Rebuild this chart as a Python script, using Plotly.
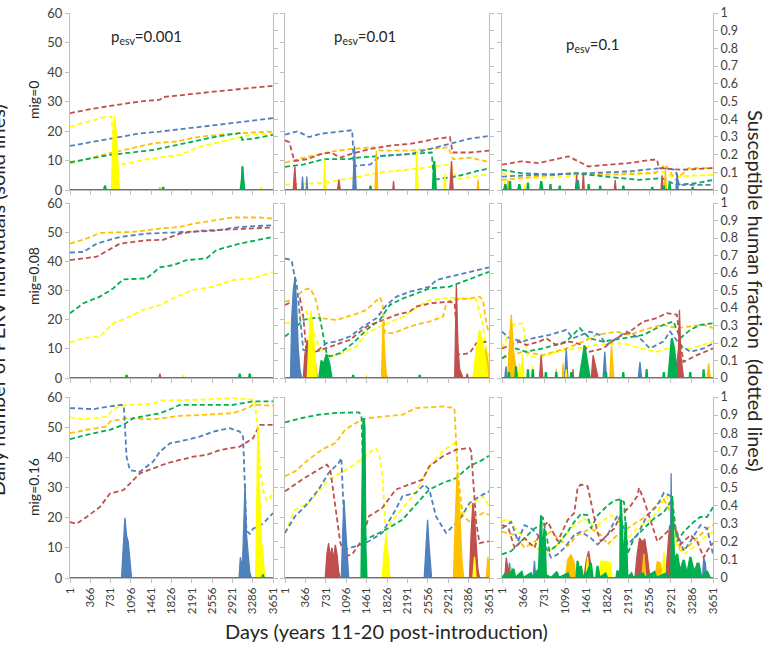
import plotly.graph_objects as go

# ---------------- categories / tick labels ----------------
DAY_TICKS = [1, 366, 731, 1096, 1461, 1826, 2191, 2556, 2921, 3286, 3651]
FRAC_TICKS = [0, 0.1, 0.2, 0.3, 0.4, 0.5, 0.6, 0.7, 0.8, 0.9, 1]
FRAC_TICK_TEXT = ["0", "0.1", "0.2", "0.3", "0.4", "0.5", "0.6", "0.7", "0.8", "0.9", "1"]
COUNT_TICKS = [0, 10, 20, 30, 40, 50, 60]
ROW_LABELS = ["mig=0", "mig=0.08", "mig=0.16"]
COL_LABELS = ["p<sub>esv</sub>=0.001", "p<sub>esv</sub>=0.01", "p<sub>esv</sub>=0.1"]
SERIES = ["red", "blue", "green", "yellow", "orange"]

# ---------------- susceptible human fraction (dashed), (day, fraction) ----------------
# row 1: mig=0
frac_r1c1_red = [(1,0.434),(365,0.457),(719,0.475),(1258,0.50),(1617,0.51),(1677,0.525),(2634,0.557),(3651,0.589)]
frac_r1c1_blue = [(1,0.249),(719,0.292),(1258,0.32),(1617,0.33),(2095,0.349),(2634,0.368),(3053,0.383),(3651,0.406)]
frac_r1c1_yellow = [(1,0.358),(659,0.415),(749,0.415),(809,0.151),(958,0.145),(1317,0.17),(1736,0.189),(1976,0.198),(2335,0.245),(2873,0.283),(3232,0.311),(3651,0.32)]
frac_r1c1_orange = [(1,0.151),(719,0.208),(1497,0.264),(1916,0.274),(2335,0.302),(3053,0.321),(3651,0.33)]
frac_r1c1_green = [(1,0.157),(719,0.198),(1497,0.226),(2095,0.264),(2634,0.302),(3053,0.321),(3101,0.283),(3292,0.29),(3651,0.311)]

frac_r1c2_blue = [(1,0.313),(226,0.332),(433,0.299),(641,0.318),(1204,0.338),(1233,0.135),(1530,0.145),(1707,0.193),(2241,0.203),(2596,0.232),(2952,0.261),(3307,0.29),(3651,0.305)]
frac_r1c2_red = [(1,0.28),(78,0.27),(167,0.164),(404,0.174),(641,0.203),(819,0.212),(996,0.183),(1174,0.203),(1530,0.232),(1885,0.251),(2241,0.261),(2715,0.29),(2952,0.299),(2999,0.212),(3307,0.212),(3651,0.222)]
frac_r1c2_orange = [(1,0.154),(345,0.183),(819,0.216),(1174,0.232),(1589,0.241),(1707,0.222),(2241,0.222),(2596,0.232),(2922,0.241),(3011,0.174),(3307,0.183),(3651,0.158)]
frac_r1c2_green = [(1,0.131),(345,0.145),(700,0.174),(1115,0.174),(1293,0.183),(1767,0.193),(2122,0.203),(2626,0.212),(2667,0.058),(3070,0.077),(3425,0.106),(3651,0.122)]
frac_r1c2_yellow = [(1,0.03),(700,0.04),(1233,0.07),(1707,0.10),(2359,0.12),(2833,0.14),(2981,0.14),(3070,0.06),(3651,0.09)]

frac_r1c3_red = [(1,0.143),(337,0.162),(627,0.152),(917,0.171),(1148,0.19),(1322,0.162),(1496,0.133),(1843,0.143),(2191,0.152),(2597,0.171),(2684,0.171),(2713,0.124),(3118,0.114),(3651,0.124)]
frac_r1c3_blue = [(1,0.076),(627,0.086),(1496,0.095),(2191,0.105),(2771,0.124),(3003,0.114),(3061,0.029),(3651,0.029)]
frac_r1c3_green = [(1,0.114),(337,0.095),(917,0.086),(1264,0.095),(1785,0.076),(2365,0.057),(2771,0.067),(3003,0.029),(3350,0.038),(3651,0.057)]
frac_r1c3_yellow = [(1,0.095),(337,0.067),(917,0.072),(1496,0.086),(2365,0.095),(2771,0.105),(2944,0.076),(3651,0.086)]
frac_r1c3_orange = [(1,0.057),(627,0.076),(1206,0.095),(1785,0.086),(2655,0.095),(2829,0.143),(3003,0.057),(3234,0.124),(3651,0.124)]

# row 2: mig=0.08
frac_r2c1_orange = [(1,0.768),(300,0.797),(540,0.829),(1138,0.835),(1617,0.854),(1976,0.863),(2215,0.882),(2574,0.901),(2933,0.917),(3412,0.917),(3651,0.911)]
frac_r2c1_blue = [(1,0.717),(240,0.72),(480,0.768),(899,0.806),(1377,0.825),(1856,0.829),(2095,0.835),(2574,0.841),(3053,0.863),(3651,0.873)]
frac_r2c1_red = [(1,0.674),(480,0.693),(899,0.768),(1377,0.787),(1677,0.79),(1976,0.825),(2335,0.841),(2813,0.848),(3651,0.86)]
frac_r2c1_green = [(1,0.37),(240,0.427),(540,0.465),(779,0.512),(958,0.564),(1377,0.569),(1617,0.632),(1856,0.645),(2095,0.674),(2454,0.683),(2634,0.731),(3053,0.768),(3651,0.806)]
frac_r2c1_yellow = [(1,0.203),(240,0.228),(540,0.237),(779,0.313),(1018,0.342),(1317,0.389),(1617,0.417),(1916,0.465),(2215,0.503),(2574,0.522),(2933,0.56),(3292,0.569),(3651,0.607)]

frac_r2c2_blue = [(1,0.683),(120,0.673),(162,0.598),(209,0.541),(328,0.161),(567,0.152),(745,0.2),(924,0.209),(1162,0.237),(1400,0.294),(1638,0.342),(1817,0.417),(1995,0.465),(2233,0.493),(2591,0.522),(2710,0.56),(3067,0.588),(3424,0.617),(3651,0.632)]
frac_r2c2_orange = [(1,0.436),(150,0.446),(328,0.503),(447,0.512),(537,0.465),(626,0.342),(924,0.332),(1221,0.361),(1459,0.389),(1638,0.446),(1698,0.461),(1745,0.427),(1787,0.256),(1936,0.256),(2233,0.294),(2591,0.323),(2829,0.351),(2889,0.427),(2978,0.446),(3305,0.455),(3484,0.465),(3543,0.446),(3603,0.313),(3651,0.256)]
frac_r2c2_red = [(1,0.417),(269,0.455),(328,0.35),(388,0.142),(567,0.152),(745,0.171),(924,0.19),(1162,0.218),(1459,0.294),(1698,0.323),(1995,0.361),(2233,0.38),(2352,0.408),(2591,0.427),(2948,0.436),(3037,0.427),(3097,0.133),(3305,0.142),(3424,0.199),(3651,0.209)]
frac_r2c2_green = [(1,0.237),(150,0.275),(328,0.332),(567,0.345),(626,0.342),(745,0.142),(805,0.123),(983,0.142),(1221,0.2),(1459,0.275),(1698,0.332),(1876,0.417),(2114,0.455),(2352,0.484),(2591,0.512),(2948,0.522),(3186,0.55),(3424,0.579),(3651,0.607)]
frac_r2c2_yellow = [(1,0.313),(150,0.32),(328,0.37),(388,0.38),(626,0.161),(805,0.123),(1043,0.142),(1281,0.18),(1459,0.256),(1638,0.285),(2114,0.35),(2531,0.44),(2948,0.46),(3424,0.45),(3543,0.3),(3603,0.15),(3651,0.12)]

frac_r2c3_red = [(1,0.169),(302,0.208),(418,0.188),(649,0.208),(765,0.227),(939,0.188),(1170,0.208),(1402,0.188),(1518,0.15),(1750,0.169),(1982,0.227),(2213,0.265),(2445,0.323),(2677,0.342),(2851,0.371),(3025,0.362),(3112,0.15),(3141,0.092),(3373,0.131),(3651,0.169)]
frac_r2c3_blue = [(1,0.265),(128,0.227),(360,0.208),(534,0.227),(823,0.246),(1113,0.275),(1229,0.227),(1518,0.265),(1693,0.246),(1808,0.188),(1982,0.227),(2155,0.265),(2387,0.227),(2561,0.169),(2793,0.208),(2909,0.265),(3083,0.188),(3257,0.15),(3489,0.169),(3651,0.198)]
frac_r2c3_green = [(1,0.112),(244,0.169),(418,0.15),(707,0.169),(1113,0.208),(1345,0.285),(1518,0.227),(1750,0.208),(2098,0.227),(2445,0.246),(2793,0.304),(2967,0.323),(3083,0.227),(3257,0.275),(3431,0.304),(3651,0.313)]
frac_r2c3_yellow = [(1,0.169),(186,0.304),(360,0.313),(447,0.131),(649,0.112),(939,0.15),(1287,0.169),(1634,0.188),(2098,0.198),(2387,0.169),(2677,0.15),(2967,0.179),(3257,0.169),(3651,0.208)]
frac_r2c3_orange = [(1,0.112),(360,0.15),(707,0.131),(1113,0.169),(1402,0.208),(1634,0.246),(1982,0.265),(2213,0.246),(2445,0.275),(2793,0.304),(3025,0.285),(3257,0.294),(3489,0.304),(3651,0.285)]

# row 3: mig=0.16
frac_r3c1_blue = [(1,0.939),(420,0.933),(719,0.948),(928,0.957),(970,0.948),(1018,0.67),(1078,0.596),(1258,0.587),(1377,0.615),(1497,0.643),(1617,0.698),(1796,0.744),(2095,0.763),(2335,0.781),(2574,0.809),(2873,0.828),(3053,0.809),(3113,0.78),(3173,0.263),(3232,0.244),(3292,0.272),(3472,0.3),(3651,0.359)]
frac_r3c1_yellow = [(1,0.887),(240,0.878),(659,0.89),(809,0.939),(1018,0.957),(1497,0.961),(1617,0.981),(2335,0.985),(2933,0.994),(3322,0.985),(3382,0.8),(3424,0.6),(3472,0.485),(3531,0.43),(3591,0.43),(3651,0.485)]
frac_r3c1_orange = [(1,0.8),(300,0.819),(659,0.837),(719,0.865),(1018,0.883),(1497,0.876),(1976,0.896),(2335,0.9),(2933,0.911),(3202,0.939),(3292,0.957),(3651,0.952)]
frac_r3c1_green = [(1,0.767),(300,0.791),(719,0.819),(958,0.846),(1138,0.883),(1377,0.896),(1617,0.91),(1856,0.939),(1976,0.957),(2933,0.957),(3292,0.976),(3651,0.976)]
frac_r3c1_red = [(1,0.309),(120,0.3),(300,0.337),(540,0.393),(719,0.467),(958,0.485),(1078,0.522),(1258,0.578),(1497,0.606),(1736,0.633),(1976,0.652),(2215,0.67),(2454,0.68),(2694,0.707),(3053,0.726),(3292,0.772),(3412,0.846),(3651,0.846)]

frac_r3c2_green = [(1,0.86),(301,0.884),(601,0.902),(901,0.912),(1321,0.915),(1369,0.9),(1405,0.5),(1441,0.212),(1801,0.267),(2101,0.322),(2341,0.405),(2582,0.488),(2822,0.525),(3062,0.552),(3302,0.617),(3542,0.654),(3651,0.676)]
frac_r3c2_orange = [(1,0.562),(181,0.589),(421,0.654),(661,0.709),(901,0.746),(1081,0.82),(1321,0.866),(1501,0.884),(2101,0.902),(2341,0.939),(2822,0.948),(3032,0.939),(3092,0.58),(3182,0.341),(3302,0.313),(3542,0.359),(3651,0.35)]
frac_r3c2_red = [(1,0.479),(301,0.543),(601,0.599),(751,0.626),(811,0.6),(901,0.4),(991,0.193),(1081,0.12),(1201,0.13),(1381,0.212),(1501,0.341),(1741,0.387),(1981,0.488),(2221,0.516),(2462,0.543),(2582,0.617),(2822,0.672),(3062,0.709),(3302,0.718),(3332,0.7),(3422,0.304),(3482,0.193),(3651,0.203)]
frac_r3c2_blue = [(1,0.249),(181,0.341),(361,0.396),(601,0.488),(781,0.58),(961,0.635),(1009,0.663),(1051,0.4),(1081,0.157),(1261,0.175),(1501,0.203),(1741,0.249),(1981,0.378),(2101,0.451),(2341,0.47),(2492,0.516),(2582,0.49),(2702,0.341),(2882,0.249),(3122,0.322),(3302,0.414),(3482,0.451),(3651,0.479)]
frac_r3c2_yellow = [(1,0.249),(181,0.378),(421,0.414),(781,0.543),(1201,0.617),(1441,0.672),(1621,0.718),(1681,0.69),(1741,0.58),(1801,0.267),(1981,0.341),(2341,0.47),(2582,0.617),(2822,0.7),(3032,0.746),(3062,0.72),(3152,0.341),(3362,0.414),(3542,0.451),(3651,0.4)]

frac_r3c3_red = [(1,0.292),(104,0.283),(219,0.167),(391,0.22),(563,0.167),(678,0.274),(793,0.31),(965,0.203),(1137,0.32),(1252,0.36),(1310,0.5),(1367,0.516),(1482,0.507),(1539,0.42),(1596,0.33),(1654,0.25),(1711,0.203),(1826,0.238),(1941,0.274),(2056,0.346),(2228,0.4),(2343,0.453),(2371,0.498),(2457,0.43),(2572,0.31),(2687,0.203),(2802,0.238),(2916,0.274),(2974,0.292),(3089,0.185),(3261,0.238),(3376,0.203),(3491,0.113),(3548,0.149),(3651,0.194)]
frac_r3c3_blue = [(1,0.274),(161,0.31),(276,0.203),(391,0.292),(506,0.274),(678,0.22),(850,0.113),(965,0.131),(1080,0.167),(1252,0.238),(1367,0.256),(1539,0.22),(1654,0.185),(1826,0.238),(1941,0.31),(1998,0.346),(2113,0.274),(2170,0.185),(2343,0.238),(2514,0.346),(2687,0.4),(2802,0.471),(2916,0.453),(2974,0.3),(3146,0.149),(3261,0.203),(3433,0.292),(3548,0.274),(3651,0.131)]
frac_r3c3_green = [(1,0.131),(161,0.149),(391,0.22),(563,0.274),(678,0.292),(706,0.337),(821,0.149),(965,0.185),(1137,0.256),(1252,0.31),(1367,0.355),(1482,0.346),(1539,0.274),(1654,0.346),(1826,0.4),(1941,0.427),(2056,0.435),(2113,0.418),(2170,0.131),(2285,0.22),(2457,0.274),(2629,0.328),(2802,0.364),(2945,0.435),(3031,0.203),(3146,0.256),(3318,0.31),(3433,0.337),(3548,0.337),(3651,0.391)]
frac_r3c3_yellow = [(1,0.31),(104,0.328),(276,0.256),(448,0.203),(735,0.131),(965,0.185),(1194,0.274),(1424,0.328),(1539,0.31),(1596,0.256),(1711,0.31),(1883,0.346),(1998,0.328),(2170,0.22),(2343,0.274),(2514,0.31),(2687,0.364),(2802,0.435),(2860,0.453),(2945,0.31),(3031,0.167),(3146,0.131),(3376,0.185),(3548,0.238),(3651,0.256)]
frac_r3c3_orange = [(1,0.256),(219,0.238),(391,0.167),(678,0.22),(850,0.256),(965,0.22),(1137,0.176),(1310,0.238),(1539,0.274),(1711,0.238),(1826,0.185),(1998,0.238),(2170,0.274),(2343,0.31),(2514,0.346),(2687,0.409),(2802,0.435),(2945,0.346),(3089,0.149),(3261,0.185),(3433,0.238),(3548,0.274),(3651,0.292)]

# ---------------- daily number of PERV individuals (solid), (day, count) ----------------
ZERO = [(1,0),(3651,0)]
count_r1c1_red = ZERO
count_r1c1_blue = ZERO
count_r1c1_orange = [(1,0),(1600,0),(1617,1),(1635,0),(3651,0)]
count_r1c1_yellow = [(1,0),(745,0),(775,18),(805,25),(830,20),(860,8),(890,0),(3425,0),(3441,1),(3460,0),(3651,0)]
count_r1c1_green = [(1,0),(615,0),(629,1.5),(645,0),(1665,0),(1677,1),(1690,0),(3070,0),(3095,4),(3101,8),(3110,5),(3135,0),(3651,0)]

count_r1c2_red = [(1,0),(150,0),(165,5),(178,8),(190,4),(205,0),(940,0),(966,3.5),(990,0),(1930,0),(1943,3),(1956,0),(2950,0),(2970,6),(2980,9.8),(2990,6),(3010,0),(3651,0)]
count_r1c2_blue = [(1,0),(300,0),(314,4.6),(330,0),(380,0),(391,4.6),(405,0),(1215,0),(1235,10),(1244,15),(1255,9),(1275,0),(3651,0)]
count_r1c2_yellow = [(1,0),(690,0),(705,7),(711,10.4),(720,6),(735,0),(2335,0),(2350,9),(2358,13.3),(2368,8),(2385,0),(2845,0),(2862,5.8),(2880,0),(3651,0)]
count_r1c2_orange = [(1,0),(1610,0),(1628,9),(1635,13.3),(1645,8),(1660,0),(3440,0),(3454,3.5),(3470,0),(3651,0)]
count_r1c2_green = [(1,0),(1520,0),(1530,1.5),(1540,0),(2645,0),(2662,6),(2672,9.8),(2685,5),(2700,0),(3651,0)]

count_r1c3_red = [(1,0),(1270,0),(1293,5.1),(1310,0),(1390,0),(1409,5.7),(1425,0),(1945,0),(1959,3.4),(1975,0),(2750,0),(2771,5),(2790,0),(3651,0)]
count_r1c3_blue = [(1,0),(1305,0),(1322,3.4),(1340,0),(3010,0),(3032,5.7),(3050,0),(3651,0)]
count_r1c3_orange = [(1,0),(90,0),(105,3.4),(120,0),(2810,0),(2829,6.9),(2845,0),(3651,0)]
count_r1c3_yellow = [(1,0),(30,0),(47,3),(65,0),(380,0),(395,2),(410,0),(3651,0)]
count_r1c3_green = [(1,0),(40,0),(60,2),(80,0),(130,0),(140,3),(150,0),(280,0),(300,2),(320,0),(440,0),(450,2.5),(460,0),(660,0),(680,3),(700,0),(830,0),(840,2),(850,0),(990,0),(1000,1.5),(1010,0),(1290,0),(1300,3),(1310,0),(1490,0),(1500,2),(1510,0),(1690,0),(1700,1.5),(1710,0),(2090,0),(2100,1.5),(2110,0),(2590,0),(2600,1),(2610,0),(2790,0),(2800,1.5),(2810,0),(2890,0),(2900,2.5),(2910,0),(3290,0),(3300,1),(3310,0),(3651,0)]

count_r2c1_red = [(1,0),(1600,0),(1617,1.5),(1635,0),(3651,0)]
count_r2c1_blue = ZERO
count_r2c1_orange = ZERO
count_r2c1_yellow = [(1,0),(1000,0),(1018,1.2),(1035,0),(2020,0),(2035,1),(2050,0),(3651,0)]
count_r2c1_green = [(1,0),(1005,0),(1018,1),(1030,0),(3040,0),(3053,1.5),(3065,0),(3220,0),(3232,1.5),(3245,0),(3651,0)]

count_r2c2_blue = [(1,0),(100,0),(120,20),(149,30),(179,34.7),(209,25),(238,10),(268,3),(298,0),(1805,0),(1817,1),(1830,0),(3651,0)]
count_r2c2_red = [(1,0),(328,0),(357,8),(399,13),(435,9),(476,12),(506,5),(536,0),(3037,0),(3067,31.9),(3097,10),(3126,3),(3186,0),(3240,0),(3260,1.5),(3280,0),(3651,0)]
count_r2c2_yellow = [(1,0),(399,0),(435,15),(464,23),(494,18),(536,8),(566,0),(1450,0),(1459,1),(1470,0),(3364,0),(3424,10),(3483,16.5),(3543,12),(3603,5),(3632,0),(3651,0)]
count_r2c2_orange = [(1,0),(476,0),(518,9.7),(554,5),(584,0),(1727,0),(1757,20),(1787,8),(1817,0),(3543,0),(3590,10),(3632,6),(3651,0)]
count_r2c2_green = [(1,0),(614,0),(655,6),(685,4),(745,8),(792,5),(834,0),(1210,0),(1221,1),(1232,0),(2400,0),(2411,1),(2422,0),(3651,0)]

count_r2c3_orange = [(1,0),(99,0),(139,15),(162,21.7),(197,10),(244,3),(302,0),(930,0),(939,3),(950,0),(1045,0),(1055,5),(1068,0),(1866,0),(1895,11),(1935,0),(3547,0),(3576,5),(3605,0),(3651,0)]
count_r2c3_red = [(1,0),(649,0),(678,7.8),(707,0),(1220,0),(1229,3),(1240,0),(1547,0),(1576,7.8),(1622,3),(1663,0),(2996,0),(3054,10),(3071,23.4),(3094,8),(3141,0),(3651,0)]
count_r2c3_blue = [(1,0),(50,0),(70,4),(90,0),(1083,0),(1113,10),(1141,0),(1750,0),(1779,9),(1808,0),(2358,0),(2387,5.5),(2416,0),(2967,0),(2996,8),(3025,0),(3651,0)]
count_r2c3_yellow = [(1,0),(290,0),(302,5),(330,2),(360,8),(380,0),(520,0),(534,4),(550,0),(1100,0),(1113,3),(1125,0),(3651,0)]
count_r2c3_green = [(1,0),(110,0),(120,2),(130,0),(234,0),(244,4),(254,0),(440,0),(450,3),(460,0),(524,0),(534,3),(544,0),(750,0),(760,2),(770,0),(929,0),(939,2),(949,0),(1190,0),(1200,2),(1210,0),(1345,0),(1402,8),(1431,11),(1460,7),(1518,0),(1790,0),(1800,2),(1810,0),(2088,0),(2098,2),(2108,0),(2493,0),(2503,3),(2513,0),(2790,0),(2800,2),(2810,0),(2880,0),(2938,13.6),(2979,10),(3025,0),(3247,0),(3257,2),(3267,0),(3479,0),(3489,3),(3499,0),(3651,0)]

count_r3c1_red = ZERO
count_r3c1_orange = ZERO
count_r3c1_blue = [(1,0),(928,0),(958,10),(988,20),(1018,14),(1048,12),(1078,6),(1107,0),(3040,0),(3064,6.9),(3100,3),(3130,20),(3148,31),(3172,15),(3202,8),(3232,2),(3262,0),(3651,0)]
count_r3c1_yellow = [(1,0),(3339,0),(3363,30),(3381,50.2),(3399,35),(3424,20),(3441,12),(3471,8),(3501,0),(3651,0)]
count_r3c1_green = [(1,0),(3459,0),(3471,1.2),(3483,0),(3651,0)]

count_r3c2_red = [(1,0),(721,0),(751,8),(781,11.6),(811,7),(841,10),(871,6),(901,11),(931,8),(961,2),(991,0),(3302,0),(3332,15),(3362,24.9),(3392,20),(3422,10),(3452,3),(3482,0),(3651,0)]
count_r3c2_blue = [(1,0),(1009,0),(1033,15),(1057,25.9),(1081,18),(1111,8),(1141,0),(2492,0),(2522,12),(2552,19.3),(2582,10),(2624,0),(3651,0)]
count_r3c2_green = [(1,0),(1369,0),(1387,30),(1405,53),(1423,50),(1441,10),(1459,0),(3651,0)]
count_r3c2_yellow = [(1,0),(1741,0),(1771,8),(1813,14.9),(1849,6),(1879,0),(3362,0),(3392,7),(3422,0),(3651,0)]
count_r3c2_orange = [(1,0),(3014,0),(3050,20),(3080,34.8),(3110,28),(3140,15),(3170,5),(3200,0),(3602,0),(3632,7),(3651,3)]

count_r3c3_red = [(1,0),(50,0),(75,6.8),(100,3),(125,0),(1420,0),(1460,6),(1500,8.9),(1530,5),(1570,0),(2300,0),(2340,8),(2380,13.2),(2430,12),(2470,13),(2510,8),(2560,0),(2830,0),(2870,10),(2900,17.5),(2930,8),(2960,0),(3350,0),(3375,5),(3400,0),(3651,0)]
count_r3c3_blue = [(1,0),(100,0),(130,5),(160,0),(540,0),(562,5.7),(585,0),(2900,0),(2920,20),(2927,34.7),(2935,15),(2950,0),(3470,0),(3490,6.7),(3518,5),(3540,0),(3651,0)]
count_r3c3_orange = [(1,0),(140,0),(161,3.5),(180,0),(1100,0),(1136,6),(1194,7.8),(1251,5),(1280,0),(2420,0),(2456,8),(2490,0),(2650,0),(2686,5.4),(2740,5),(2780,0),(3380,0),(3400,5),(3420,0),(3651,0)]
count_r3c3_yellow = [(1,0),(1450,0),(1481,7),(1510,0),(1680,0),(1710,5.5),(1796,5.5),(1882,5),(1900,0),(2110,0),(2141,7.8),(2170,0),(2770,0),(2801,8.8),(2830,0),(3200,0),(3260,4),(3300,0),(3651,0)]
count_r3c3_green = [(1,0),(60,1.5),(90,0),(200,3),(230,0),(340,2),(370,0),(500,1.5),(530,0),(640,3),(677,20.8),(700,4),(735,16.5),(760,1),(850,0),(950,2),(980,0),(1140,1.5),(1170,0),(1290,0),(1308,5.7),(1340,1),(1366,4),(1400,0),(1480,2),(1538,5),(1570,0),(1630,0),(1653,4),(1690,0),(1790,1.5),(1820,0),(1980,0),(2000,2.5),(2030,0),(2045,0),(2055,26),(2083,12),(2110,2),(2141,18.6),(2170,0),(2240,1.5),(2270,0),(2440,1.5),(2470,0),(2640,2),(2670,0),(2840,1.5),(2870,0),(2930,0),(2944,27.2),(2980,5),(3030,8),(3080,2),(3145,6),(3200,1),(3260,7),(3320,2),(3400,5),(3450,0),(3550,2),(3600,0),(3651,0)]

# ---------------- styling ----------------
COLORS = {"red": "#C0504D", "blue": "#4F81BD", "green": "#00B050",
          "yellow": "#FFFF00", "orange": "#FFC000"}
FONT = "Lato, 'Open Sans', sans-serif"
AXIS_GRAY = "#BFBFBF"
TICK_COLOR = "#404040"
W, H = 771, 646
COL_PX = [(70, 273), (285, 489), (502, 713)]
ROW_PX = [(13, 190), (203, 378), (397, 578)]

g = globals()
fig = go.Figure()
layout = {}

DASHED_ORDER = ["yellow", "orange", "green", "blue", "red"]
SOLID_ORDER = ["blue", "red", "orange", "yellow", "green"]

for r in range(3):
    for c in range(3):
        k = r * 3 + c + 1
        xa = "x" if k == 1 else f"x{k}"
        yf = 2 * k - 1
        yc = 2 * k
        yf_name = "y" if yf == 1 else f"y{yf}"
        yc_name = f"y{yc}"
        for s in DASHED_ORDER:
            pts = g[f"frac_r{r+1}c{c+1}_{s}"]
            fig.add_trace(go.Scatter(
                x=[p[0] for p in pts], y=[p[1] for p in pts], mode="lines",
                line=dict(color=COLORS[s], width=1.8, dash="5px,3px"),
                xaxis=xa, yaxis=yf_name, showlegend=False, hoverinfo="skip"))
        for s in SOLID_ORDER:
            pts = g[f"count_r{r+1}c{c+1}_{s}"]
            fig.add_trace(go.Scatter(
                x=[p[0] for p in pts], y=[p[1] for p in pts], mode="lines",
                line=dict(color=COLORS[s], width=2.2 if s == "green" else 1.3),
                fill="tozeroy", fillcolor=COLORS[s],
                xaxis=xa, yaxis=yc_name, showlegend=False, hoverinfo="skip"))

        x0, x1 = COL_PX[c]
        y0, y1 = ROW_PX[r]
        xdom = [x0 / W, x1 / W]
        ydom = [1 - y1 / H, 1 - y0 / H]
        common = dict(ticks="outside", ticklen=4, tickcolor=AXIS_GRAY,
                      showline=True, linecolor=AXIS_GRAY, linewidth=1,
                      showgrid=False, zeroline=False, automargin=False)
        layout[f"xaxis{'' if k == 1 else k}"] = dict(
            domain=xdom, range=[1, 3651], anchor=yf_name,
            tickvals=DAY_TICKS, ticktext=[str(v) for v in DAY_TICKS],
            tickangle=-90, showticklabels=(r == 2),
            tickfont=dict(family=FONT, size=11.5, color=TICK_COLOR), **common)
        layout[f"yaxis{'' if yf == 1 else yf}"] = dict(
            domain=ydom, range=[0, 1], anchor=xa, side="right",
            tickvals=FRAC_TICKS, ticktext=FRAC_TICK_TEXT, showticklabels=(c == 2),
            tickfont=dict(family=FONT, size=12.5, color=TICK_COLOR), **common)
        layout[f"yaxis{yc}"] = dict(
            range=[0, 60], anchor=xa, overlaying=yf_name, side="left",
            tickvals=COUNT_TICKS, showticklabels=(c == 0),
            tickfont=dict(family=FONT, size=13, color=TICK_COLOR), **common)

def note(text, px, py, size, angle=0):
    return dict(text=text, x=px / W, y=1 - py / H, xref="paper", yref="paper",
                xanchor="center", yanchor="middle", showarrow=False, textangle=angle,
                font=dict(family=FONT, size=size, color="#262626"))

annotations = []
title_pos = [(146, 37), (365, 37), (593, 45)]
for c, (px, py) in enumerate(title_pos):
    annotations.append(note(COL_LABELS[c], px, py, 15))
mig_y = [100, 276, 487]
for r, py in enumerate(mig_y):
    annotations.append(note(ROW_LABELS[r], 33, py, 14, -90))
annotations.append(note("Daily number of PERV individuals (solid lines)", -3, 300, 20, -90))
annotations.append(note("Susceptible human fraction  (dotted lines)", 756, 290, 20, 90))
annotations.append(note("Days (years 11-20 post-introduction)", 386, 631, 20))

fig.update_layout(template="none", width=W, height=H, margin=dict(l=0, r=0, t=0, b=0, autoexpand=False),
                  paper_bgcolor="white", plot_bgcolor="white",
                  annotations=annotations, **layout)
fig.write_html("out.html")
